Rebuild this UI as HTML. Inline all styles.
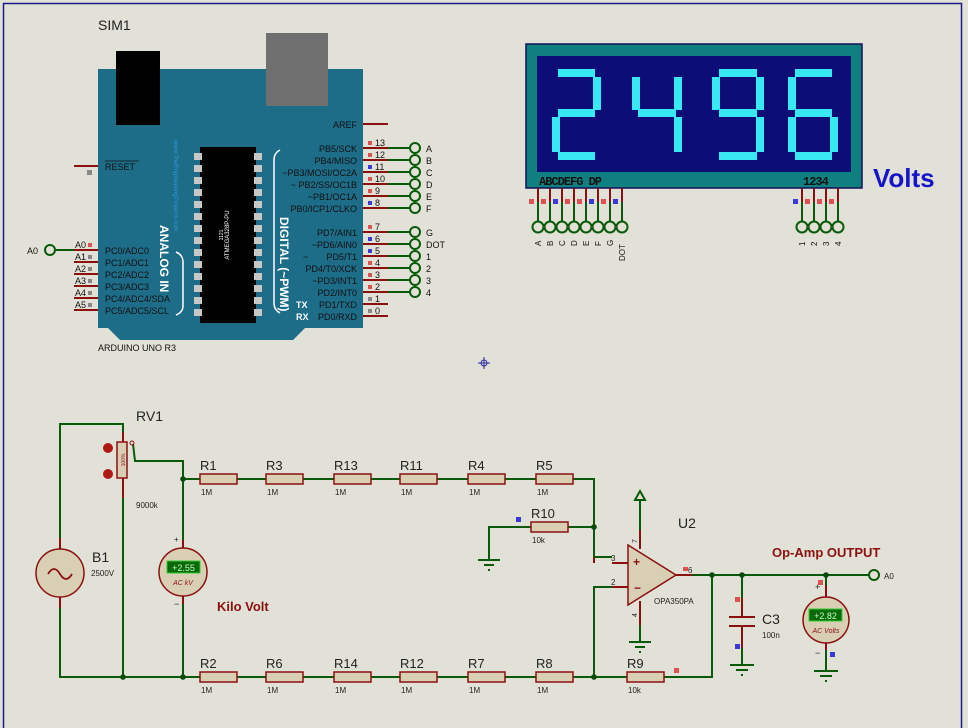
<!DOCTYPE html>
<html><head><meta charset="utf-8"><style>
html,body{margin:0;padding:0;background:#e2e1d7;}
svg{display:block;font-family:"Liberation Sans",sans-serif;}
</style></head><body>
<svg width="968" height="728" viewBox="0 0 968 728" xmlns="http://www.w3.org/2000/svg">
<rect x="0" y="0" width="968" height="728" fill="#e2e1d7"/>
<rect x="3.5" y="3.5" width="958" height="730" fill="none" stroke="#1a1a8a" stroke-width="1.5"/>

<!-- ARDUINO -->
<text x="98" y="30" font-size="14" fill="#222">SIM1</text>
<polygon points="98,69 363,69 363,328 305,328 293,340 120,340 108,328 98,328" fill="#1d6c88"/>
<rect x="116" y="51" width="44" height="74" fill="#000"/>
<rect x="266" y="33" width="62" height="73" fill="#6f6f6f"/>
<rect x="200" y="147" width="56" height="176" fill="#000"/>
<g fill="#c8c8c8">
<rect x="194" y="153" width="8" height="7"/><rect x="194" y="165" width="8" height="7"/><rect x="194" y="177" width="8" height="7"/><rect x="194" y="189" width="8" height="7"/><rect x="194" y="201" width="8" height="7"/><rect x="194" y="213" width="8" height="7"/><rect x="194" y="225" width="8" height="7"/><rect x="194" y="237" width="8" height="7"/><rect x="194" y="249" width="8" height="7"/><rect x="194" y="261" width="8" height="7"/><rect x="194" y="273" width="8" height="7"/><rect x="194" y="285" width="8" height="7"/><rect x="194" y="297" width="8" height="7"/><rect x="194" y="309" width="8" height="7"/>
<rect x="254" y="153" width="8" height="7"/><rect x="254" y="165" width="8" height="7"/><rect x="254" y="177" width="8" height="7"/><rect x="254" y="189" width="8" height="7"/><rect x="254" y="201" width="8" height="7"/><rect x="254" y="213" width="8" height="7"/><rect x="254" y="225" width="8" height="7"/><rect x="254" y="237" width="8" height="7"/><rect x="254" y="249" width="8" height="7"/><rect x="254" y="261" width="8" height="7"/><rect x="254" y="273" width="8" height="7"/><rect x="254" y="285" width="8" height="7"/><rect x="254" y="297" width="8" height="7"/><rect x="254" y="309" width="8" height="7"/>
</g>
<text transform="translate(229,235) rotate(-90)" font-size="6" fill="#fff" text-anchor="middle">ATMEGA328P-PU</text>
<text transform="translate(223,235) rotate(-90)" font-size="5" fill="#fff" text-anchor="middle">1121</text>
<text transform="translate(174,140) rotate(90)" font-size="6" fill="#2a9ad8">www.TheEngineeringProjects.com</text>
<text transform="translate(160,225) rotate(90)" font-size="12" font-weight="bold" fill="#fff">ANALOG IN</text>
<text transform="translate(280,217) rotate(90)" font-size="12" font-weight="bold" fill="#fff">DIGITAL (~PWM)</text>
<path d="M176,252 q7,3 7,10 v44 q0,6 -7,9" fill="none" stroke="#fff" stroke-width="1.5"/>
<path d="M280,150 q-6,3 -6,10 v143 q0,7 6,10" fill="none" stroke="#fff" stroke-width="1.5"/>

<g font-size="9" fill="#111" text-anchor="end">
<text x="357" y="128">AREF</text>
<text x="357" y="152">PB5/SCK</text><text x="357" y="164">PB4/MISO</text><text x="357" y="176">~PB3/MOSI/OC2A</text><text x="357" y="188">~ PB2/SS/OC1B</text><text x="357" y="200">~PB1/OC1A</text><text x="357" y="212">PB0/ICP1/CLKO</text>
<text x="357" y="236">PD7/AIN1</text><text x="357" y="248">~PD6/AIN0</text><text x="357" y="260">PD5/T1</text><text x="357" y="272">PD4/T0/XCK</text><text x="357" y="284">~PD3/INT1</text><text x="357" y="296">PD2/INT0</text><text x="357" y="308">PD1/TXD</text><text x="357" y="320">PD0/RXD</text>
</g>
<text x="303" y="260" font-size="9" fill="#111">~</text>
<text x="296" y="308" font-size="9" font-weight="bold" fill="#fff">TX</text>
<text x="296" y="320" font-size="9" font-weight="bold" fill="#fff">RX</text>
<g stroke="#8b1010" stroke-width="2">
<line x1="363" y1="124" x2="388" y2="124"/>
<line x1="363" y1="148" x2="388" y2="148"/><line x1="363" y1="160" x2="388" y2="160"/><line x1="363" y1="172" x2="388" y2="172"/><line x1="363" y1="184" x2="388" y2="184"/><line x1="363" y1="196" x2="388" y2="196"/><line x1="363" y1="208" x2="388" y2="208"/>
<line x1="363" y1="232" x2="388" y2="232"/><line x1="363" y1="244" x2="388" y2="244"/><line x1="363" y1="256" x2="388" y2="256"/><line x1="363" y1="268" x2="388" y2="268"/><line x1="363" y1="280" x2="388" y2="280"/><line x1="363" y1="292" x2="388" y2="292"/><line x1="363" y1="304" x2="388" y2="304"/><line x1="363" y1="316" x2="388" y2="316"/>
<line x1="74" y1="166" x2="98" y2="166"/>
<line x1="74" y1="250" x2="98" y2="250"/><line x1="74" y1="262" x2="98" y2="262"/><line x1="74" y1="274" x2="98" y2="274"/><line x1="74" y1="286" x2="98" y2="286"/><line x1="74" y1="298" x2="98" y2="298"/><line x1="74" y1="310" x2="98" y2="310"/>
</g>
<g stroke="#0a5a0a" stroke-width="2" fill="none">
<line x1="388" y1="148" x2="410" y2="148"/><line x1="388" y1="160" x2="410" y2="160"/><line x1="388" y1="172" x2="410" y2="172"/><line x1="388" y1="184" x2="410" y2="184"/><line x1="388" y1="196" x2="410" y2="196"/><line x1="388" y1="208" x2="410" y2="208"/>
<line x1="388" y1="232" x2="410" y2="232"/><line x1="388" y1="244" x2="410" y2="244"/><line x1="388" y1="256" x2="410" y2="256"/><line x1="388" y1="268" x2="410" y2="268"/><line x1="388" y1="280" x2="410" y2="280"/><line x1="388" y1="292" x2="410" y2="292"/>
<circle cx="415" cy="148" r="5"/><circle cx="415" cy="160" r="5"/><circle cx="415" cy="172" r="5"/><circle cx="415" cy="184" r="5"/><circle cx="415" cy="196" r="5"/><circle cx="415" cy="208" r="5"/>
<circle cx="415" cy="232" r="5"/><circle cx="415" cy="244" r="5"/><circle cx="415" cy="256" r="5"/><circle cx="415" cy="268" r="5"/><circle cx="415" cy="280" r="5"/><circle cx="415" cy="292" r="5"/>
<line x1="55" y1="250" x2="74" y2="250"/><circle cx="50" cy="250" r="5"/>
</g>
<g font-size="9" fill="#111">
<text x="426" y="152">A</text><text x="426" y="164">B</text><text x="426" y="176">C</text><text x="426" y="188">D</text><text x="426" y="200">E</text><text x="426" y="212">F</text>
<text x="426" y="236">G</text><text x="426" y="248">DOT</text><text x="426" y="260">1</text><text x="426" y="272">2</text><text x="426" y="284">3</text><text x="426" y="296">4</text>
<text x="375" y="146">13</text><text x="375" y="158">12</text><text x="375" y="170">11</text><text x="375" y="182">10</text><text x="375" y="194">9</text><text x="375" y="206">8</text>
<text x="375" y="230">7</text><text x="375" y="242">6</text><text x="375" y="254">5</text><text x="375" y="266">4</text><text x="375" y="278">3</text><text x="375" y="290">2</text><text x="375" y="302">1</text><text x="375" y="314">0</text>
<text x="27" y="254">A0</text>
<text x="75" y="248">A0</text><text x="75" y="260">A1</text><text x="75" y="272">A2</text><text x="75" y="284">A3</text><text x="75" y="296">A4</text><text x="75" y="308">A5</text>
<text x="105" y="170">RESET</text>
<text x="105" y="254">PC0/ADC0</text><text x="105" y="266">PC1/ADC1</text><text x="105" y="278">PC2/ADC2</text><text x="105" y="290">PC3/ADC3</text><text x="105" y="302">PC4/ADC4/SDA</text><text x="105" y="314">PC5/ADC5/SCL</text>
<text x="98" y="351">ARDUINO UNO R3</text>
</g>
<line x1="105" y1="161" x2="139" y2="161" stroke="#111" stroke-width="0.8"/>
<g>
<rect x="368" y="141" width="4" height="4" fill="#e05050"/><rect x="368" y="153" width="4" height="4" fill="#e05050"/><rect x="368" y="165" width="4" height="4" fill="#3a3ad8"/><rect x="368" y="177" width="4" height="4" fill="#e05050"/><rect x="368" y="189" width="4" height="4" fill="#e05050"/><rect x="368" y="201" width="4" height="4" fill="#3a3ad8"/>
<rect x="368" y="225" width="4" height="4" fill="#e05050"/><rect x="368" y="237" width="4" height="4" fill="#3a3ad8"/><rect x="368" y="249" width="4" height="4" fill="#3a3ad8"/><rect x="368" y="261" width="4" height="4" fill="#e05050"/><rect x="368" y="273" width="4" height="4" fill="#e05050"/><rect x="368" y="285" width="4" height="4" fill="#e05050"/><rect x="368" y="297" width="4" height="4" fill="#888"/><rect x="368" y="309" width="4" height="4" fill="#888"/>
<rect x="87" y="170" width="5" height="5" fill="#888"/>
<rect x="88" y="243" width="4" height="4" fill="#e05050"/><rect x="88" y="255" width="4" height="4" fill="#888"/><rect x="88" y="267" width="4" height="4" fill="#888"/><rect x="88" y="279" width="4" height="4" fill="#888"/><rect x="88" y="291" width="4" height="4" fill="#888"/><rect x="88" y="303" width="4" height="4" fill="#888"/>
</g>

<!-- DISPLAY -->
<rect x="526" y="44" width="336" height="144" fill="#0f7f7f" stroke="#10105a" stroke-width="1.5"/>
<rect x="537" y="56" width="314" height="116" fill="#0d0d78"/>
<g stroke="#38e8f2" stroke-width="8" stroke-linecap="butt">
<!-- 2 -->
<line x1="558" y1="73" x2="595" y2="73"/><line x1="597" y1="77" x2="597" y2="110"/><line x1="558" y1="113" x2="595" y2="113"/><line x1="556" y1="117" x2="556" y2="152"/><line x1="558" y1="156" x2="595" y2="156"/>
<!-- 4 -->
<line x1="636" y1="77" x2="636" y2="110"/><line x1="638" y1="113" x2="676" y2="113"/><line x1="678" y1="77" x2="678" y2="110"/><line x1="678" y1="117" x2="678" y2="152"/>
<!-- 9 -->
<line x1="719" y1="73" x2="757" y2="73"/><line x1="716" y1="77" x2="716" y2="110"/><line x1="760" y1="77" x2="760" y2="110"/><line x1="719" y1="113" x2="757" y2="113"/><line x1="760" y1="117" x2="760" y2="152"/><line x1="719" y1="156" x2="757" y2="156"/>
<!-- 6 -->
<line x1="795" y1="73" x2="832" y2="73"/><line x1="792" y1="77" x2="792" y2="110"/><line x1="795" y1="113" x2="832" y2="113"/><line x1="792" y1="117" x2="792" y2="152"/><line x1="834" y1="117" x2="834" y2="152"/><line x1="795" y1="156" x2="832" y2="156"/>
</g>
<text x="539" y="185" font-size="12" font-weight="bold" fill="#111" font-family="Liberation Mono, monospace" letter-spacing="-1">ABCDEFG DP</text>
<text x="803" y="185" font-size="12" font-weight="bold" fill="#111" font-family="Liberation Mono, monospace" letter-spacing="-1">1234</text>
<text x="873" y="187" font-size="26" font-weight="bold" fill="#1414c8">Volts</text>
<g stroke-width="2" fill="none">
<g stroke="#8b1010"><line x1="538" y1="188" x2="538" y2="202"/><line x1="550" y1="188" x2="550" y2="202"/><line x1="562" y1="188" x2="562" y2="202"/><line x1="574" y1="188" x2="574" y2="202"/><line x1="586" y1="188" x2="586" y2="202"/><line x1="598" y1="188" x2="598" y2="202"/><line x1="610" y1="188" x2="610" y2="202"/><line x1="622" y1="188" x2="622" y2="202"/>
<line x1="802" y1="188" x2="802" y2="202"/><line x1="814" y1="188" x2="814" y2="202"/><line x1="826" y1="188" x2="826" y2="202"/><line x1="838" y1="188" x2="838" y2="202"/></g>
<g stroke="#0a5a0a"><line x1="538" y1="202" x2="538" y2="222"/><line x1="550" y1="202" x2="550" y2="222"/><line x1="562" y1="202" x2="562" y2="222"/><line x1="574" y1="202" x2="574" y2="222"/><line x1="586" y1="202" x2="586" y2="222"/><line x1="598" y1="202" x2="598" y2="222"/><line x1="610" y1="202" x2="610" y2="222"/><line x1="622" y1="202" x2="622" y2="222"/>
<line x1="802" y1="202" x2="802" y2="222"/><line x1="814" y1="202" x2="814" y2="222"/><line x1="826" y1="202" x2="826" y2="222"/><line x1="838" y1="202" x2="838" y2="222"/>
<circle cx="538" cy="227" r="5.5"/><circle cx="550" cy="227" r="5.5"/><circle cx="562" cy="227" r="5.5"/><circle cx="574" cy="227" r="5.5"/><circle cx="586" cy="227" r="5.5"/><circle cx="598" cy="227" r="5.5"/><circle cx="610" cy="227" r="5.5"/><circle cx="622" cy="227" r="5.5"/>
<circle cx="802" cy="227" r="5.5"/><circle cx="814" cy="227" r="5.5"/><circle cx="826" cy="227" r="5.5"/><circle cx="838" cy="227" r="5.5"/></g>
</g>
<g>
<rect x="529" y="199" width="5" height="5" fill="#e05050"/><rect x="541" y="199" width="5" height="5" fill="#e05050"/><rect x="553" y="199" width="5" height="5" fill="#3a3ad8"/><rect x="565" y="199" width="5" height="5" fill="#e05050"/><rect x="577" y="199" width="5" height="5" fill="#e05050"/><rect x="589" y="199" width="5" height="5" fill="#3a3ad8"/><rect x="601" y="199" width="5" height="5" fill="#e05050"/><rect x="613" y="199" width="5" height="5" fill="#3a3ad8"/>
<rect x="793" y="199" width="5" height="5" fill="#3a3ad8"/><rect x="805" y="199" width="5" height="5" fill="#e05050"/><rect x="817" y="199" width="5" height="5" fill="#e05050"/><rect x="829" y="199" width="5" height="5" fill="#e05050"/>
</g>
<g font-size="8" fill="#111">
<text transform="translate(541,246) rotate(-90)">A</text><text transform="translate(553,246) rotate(-90)">B</text><text transform="translate(565,246) rotate(-90)">C</text><text transform="translate(577,246) rotate(-90)">D</text><text transform="translate(589,246) rotate(-90)">E</text><text transform="translate(601,246) rotate(-90)">F</text><text transform="translate(613,246) rotate(-90)">G</text><text transform="translate(625,261) rotate(-90)">DOT</text>
<text transform="translate(805,246) rotate(-90)">1</text><text transform="translate(817,246) rotate(-90)">2</text><text transform="translate(829,246) rotate(-90)">3</text><text transform="translate(841,246) rotate(-90)">4</text>
</g>

<!-- crosshair -->
<g stroke="#2a2aa0" stroke-width="1" fill="none"><circle cx="484" cy="363" r="3"/><line x1="478" y1="363" x2="490" y2="363"/><line x1="484" y1="357" x2="484" y2="369"/></g>

<!-- BOTTOM CIRCUIT: wires -->
<g stroke="#0a5a0a" stroke-width="2" fill="none">
<polyline points="60,549 60,424 123,424 123,432"/>
<polyline points="60,597 60,677 200,677"/>
<line x1="123" y1="498" x2="123" y2="677"/>
<polyline points="133,444 135,461 183,461 183,540"/>
<line x1="183" y1="604" x2="183" y2="677"/>
<line x1="183" y1="479" x2="200" y2="479"/>
<line x1="237" y1="479" x2="266" y2="479"/><line x1="303" y1="479" x2="334" y2="479"/><line x1="371" y1="479" x2="400" y2="479"/><line x1="437" y1="479" x2="468" y2="479"/><line x1="505" y1="479" x2="536" y2="479"/>
<polyline points="573,479 594,479 594,557 612,557"/>
<line x1="237" y1="677" x2="266" y2="677"/><line x1="303" y1="677" x2="334" y2="677"/><line x1="371" y1="677" x2="400" y2="677"/><line x1="437" y1="677" x2="468" y2="677"/><line x1="505" y1="677" x2="536" y2="677"/>
<line x1="573" y1="677" x2="627" y2="677"/>
<polyline points="612,587 594,587 594,677"/>
<polyline points="664,677 712,677 712,575"/>
<line x1="568" y1="527" x2="594" y2="527"/>
<polyline points="531,527 489,527 489,560"/>
<line x1="692" y1="575" x2="869" y2="575"/>
<line x1="742" y1="575" x2="742" y2="598"/><line x1="742" y1="648" x2="742" y2="665"/>
<line x1="826" y1="575" x2="826" y2="585"/><line x1="826" y1="650" x2="826" y2="671"/>
<polyline points="640,530 640,500"/><polygon points="635,500 645,500 640,491"/>
<line x1="640" y1="625" x2="640" y2="642"/>
<circle cx="874" cy="575" r="5"/>
<!-- grounds -->
<line x1="478" y1="560" x2="500" y2="560"/><line x1="484" y1="565" x2="494" y2="565"/><line x1="488" y1="570" x2="490" y2="570"/>
<line x1="629" y1="642" x2="651" y2="642"/><line x1="635" y1="647" x2="645" y2="647"/><line x1="639" y1="652" x2="641" y2="652"/>
<line x1="730" y1="665" x2="754" y2="665"/><line x1="736" y1="670" x2="748" y2="670"/><line x1="741" y1="675" x2="743" y2="675"/>
<line x1="814" y1="671" x2="838" y2="671"/><line x1="820" y1="676" x2="832" y2="676"/><line x1="825" y1="681" x2="827" y2="681"/>
</g>
<g fill="#0a4a0a"><circle cx="183" cy="479" r="2.8"/><circle cx="123" cy="677" r="2.8"/><circle cx="183" cy="677" r="2.8"/><circle cx="594" cy="527" r="2.8"/><circle cx="594" cy="677" r="2.8"/><circle cx="712" cy="575" r="2.8"/><circle cx="742" cy="575" r="2.8"/><circle cx="826" cy="575" r="2.8"/></g>

<!-- red pin stubs -->
<g stroke="#8b1010" stroke-width="2" fill="none">
<line x1="123" y1="432" x2="123" y2="442"/><line x1="123" y1="478" x2="123" y2="498"/>
<line x1="60" y1="549" x2="60" y2="538"/><line x1="60" y1="597" x2="60" y2="608"/>
<line x1="183" y1="540" x2="183" y2="548"/><line x1="183" y1="596" x2="183" y2="604"/>
<line x1="612" y1="563" x2="628" y2="563"/><line x1="612" y1="587" x2="628" y2="587"/>
<line x1="640" y1="530" x2="640" y2="549"/><line x1="640" y1="601" x2="640" y2="625"/>
<line x1="676" y1="575" x2="692" y2="575"/>
<line x1="742" y1="598" x2="742" y2="618"/><line x1="742" y1="626" x2="742" y2="648"/>
<line x1="826" y1="585" x2="826" y2="597"/><line x1="826" y1="643" x2="826" y2="650"/>
<line x1="729" y1="617" x2="755" y2="617"/><line x1="729" y1="626" x2="755" y2="626"/>
<line x1="594" y1="557" x2="594" y2="563"/>
</g>
<!-- resistors -->
<g fill="#d9cfb5" stroke="#8b1010" stroke-width="1.5">
<rect x="200" y="474" width="37" height="10"/><rect x="266" y="474" width="37" height="10"/><rect x="334" y="474" width="37" height="10"/><rect x="400" y="474" width="37" height="10"/><rect x="468" y="474" width="37" height="10"/><rect x="536" y="474" width="37" height="10"/>
<rect x="200" y="672" width="37" height="10"/><rect x="266" y="672" width="37" height="10"/><rect x="334" y="672" width="37" height="10"/><rect x="400" y="672" width="37" height="10"/><rect x="468" y="672" width="37" height="10"/><rect x="536" y="672" width="37" height="10"/>
<rect x="627" y="672" width="37" height="10"/><rect x="531" y="522" width="37" height="10"/>
<rect x="117" y="442" width="10" height="36"/>
<circle cx="60" cy="573" r="24"/>
<circle cx="183" cy="572" r="24"/>
<circle cx="826" cy="620" r="23"/>
<polygon points="628,545 628,605 676,575"/>
</g>
<circle cx="108" cy="448" r="5" fill="#b01818"/><circle cx="108" cy="474" r="5" fill="#b01818"/>
<circle cx="132" cy="443" r="2" fill="none" stroke="#8b1010"/>
<text transform="translate(125,460) rotate(-90)" font-size="5" fill="#8b1010" text-anchor="middle">100%</text>
<path d="M48,574 q6,-10 12,0 q6,10 12,0" fill="none" stroke="#8b1010" stroke-width="1.8"/>
<rect x="167" y="561" width="33" height="12" fill="#0a6a0a" stroke="#3c3" stroke-width="1"/>
<text x="183.5" y="571" font-size="9" fill="#bfffbf" text-anchor="middle">+2.55</text>
<text x="183" y="585" font-size="7" font-style="italic" fill="#8b1010" text-anchor="middle">AC kV</text>
<rect x="809" y="609" width="33" height="12" fill="#0a6a0a" stroke="#3c3" stroke-width="1"/>
<text x="825.5" y="619" font-size="9" fill="#bfffbf" text-anchor="middle">+2.82</text>
<text x="826" y="633" font-size="7" font-style="italic" fill="#8b1010" text-anchor="middle">AC Volts</text>
<text x="633" y="566" font-size="12" font-weight="bold" fill="#8b1010">+</text>
<text x="634" y="592" font-size="12" font-weight="bold" fill="#8b1010">−</text>

<!-- squares -->
<rect x="516" y="517" width="5" height="5" fill="#3a3ad8"/>
<rect x="674" y="668" width="5" height="5" fill="#e05050"/>
<rect x="683" y="567" width="5" height="4" fill="#e05050"/>
<rect x="735" y="597" width="5" height="5" fill="#e05050"/>
<rect x="735" y="644" width="5" height="5" fill="#3a3ad8"/>
<rect x="818" y="580" width="5" height="5" fill="#e05050"/>
<rect x="830" y="652" width="5" height="5" fill="#3a3ad8"/>

<!-- labels -->
<g fill="#222">
<text x="136" y="421" font-size="14">RV1</text>
<text x="136" y="508" font-size="8">9000k</text>
<text x="92" y="562" font-size="14">B1</text>
<text x="91" y="576" font-size="8">2500V</text>
<text x="174" y="542" font-size="8">+</text>
<text x="174" y="607" font-size="9">−</text>
<text x="200" y="470" font-size="13">R1</text><text x="266" y="470" font-size="13">R3</text><text x="334" y="470" font-size="13">R13</text><text x="400" y="470" font-size="13">R11</text><text x="468" y="470" font-size="13">R4</text><text x="536" y="470" font-size="13">R5</text>
<text x="200" y="668" font-size="13">R2</text><text x="266" y="668" font-size="13">R6</text><text x="334" y="668" font-size="13">R14</text><text x="400" y="668" font-size="13">R12</text><text x="468" y="668" font-size="13">R7</text><text x="536" y="668" font-size="13">R8</text>
<text x="627" y="668" font-size="13">R9</text><text x="531" y="518" font-size="13">R10</text>
<g font-size="8"><text x="201" y="495">1M</text><text x="267" y="495">1M</text><text x="335" y="495">1M</text><text x="401" y="495">1M</text><text x="469" y="495">1M</text><text x="537" y="495">1M</text>
<text x="201" y="693">1M</text><text x="267" y="693">1M</text><text x="335" y="693">1M</text><text x="401" y="693">1M</text><text x="469" y="693">1M</text><text x="537" y="693">1M</text>
<text x="628" y="693">10k</text><text x="532" y="543">10k</text>
<text x="611" y="561">3</text><text x="611" y="585">2</text><text x="688" y="573">6</text>
<text x="654" y="604">OPA350PA</text>
<text x="762" y="638">100n</text>
<text x="884" y="579">A0</text></g>
<text transform="translate(637,543) rotate(-90)" font-size="7">7</text>
<text transform="translate(637,617) rotate(-90)" font-size="7">4</text>
<text x="678" y="528" font-size="14">U2</text>
<text x="762" y="624" font-size="14">C3</text>
<text x="815" y="590" font-size="9">+</text>
<text x="815" y="656" font-size="9">−</text>
</g>
<text x="217" y="611" font-size="13" font-weight="bold" fill="#8b1010">Kilo Volt</text>
<text x="772" y="557" font-size="13" font-weight="bold" fill="#8b1010">Op-Amp OUTPUT</text>
</svg>
</body></html>
